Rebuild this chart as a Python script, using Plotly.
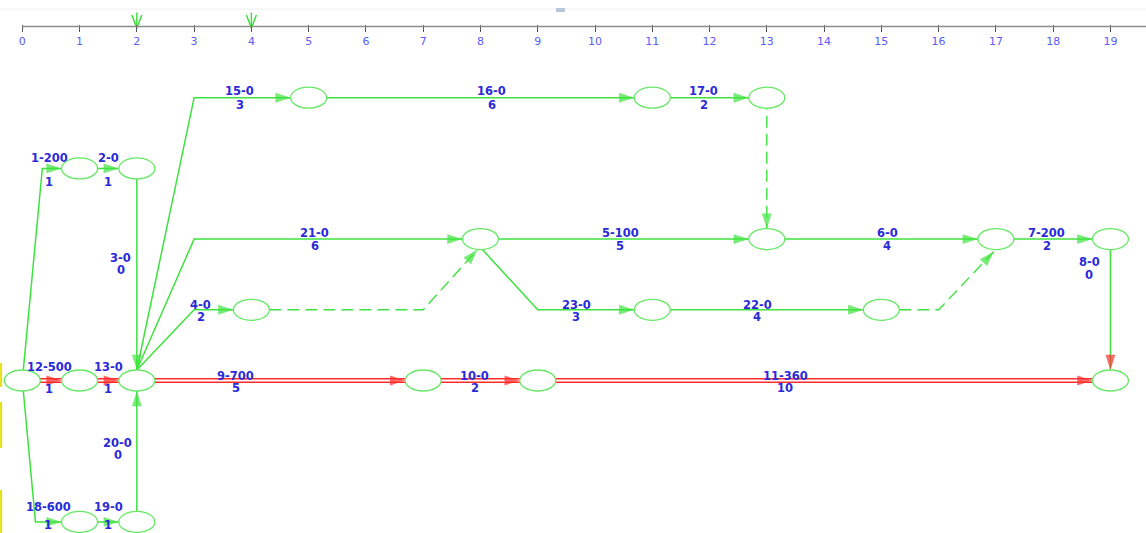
import plotly.graph_objects as go

# ---------------- data ----------------
TICK_VALS = [0, 1, 2, 3, 4, 5, 6, 7, 8, 9, 10, 11, 12, 13, 14, 15, 16, 17, 18, 19]
TICK_LABELS = ["0", "1", "2", "3", "4", "5", "6", "7", "8", "9", "10",
               "11", "12", "13", "14", "15", "16", "17", "18", "19"]
MARK_TIMES = [2, 4]

NODE_IDS = ["A", "B", "C", "D", "E", "F", "G", "H", "I", "J",
            "K", "L", "M", "N", "O", "P", "Q", "R", "S", "T"]
NODE_TIME = [0, 1, 2, 1, 2, 1, 2, 5, 11, 13, 8, 13, 17, 19, 4, 11, 15, 7, 9, 19]
NODE_LANE = [4, 1, 1, 4, 4, 6, 6, 0, 0, 0, 2, 2, 2, 2, 3, 3, 3, 4, 4, 4]

ACT_ID = [1, 2, 3, 12, 13, 18, 19, 20, 15, 16, 17, 21, 5, 6, 7, 8, 4, 23, 22, 9, 10, 11]
ACT_COST = [200, 0, 0, 500, 0, 600, 0, 0, 0, 0, 0, 0, 100, 0, 200, 0, 0, 0, 0, 700, 0, 360]
ACT_DUR = [1, 1, 0, 1, 1, 1, 1, 0, 3, 6, 2, 6, 5, 4, 2, 0, 2, 3, 4, 5, 2, 10]
ACT_FROM = ["A", "B", "C", "A", "D", "A", "F", "G", "E", "H", "I", "E", "K", "L", "M", "N", "E", "K", "P", "E", "R", "S"]
ACT_TO = ["B", "C", "E", "D", "E", "F", "G", "E", "H", "I", "J", "K", "L", "M", "N", "T", "O", "P", "Q", "R", "S", "T"]
ACT_CRITICAL = [False, False, False, True, True, False, False, False, False, False, False,
                False, False, False, False, False, False, False, False, True, True, True]

DUMMY_FROM = ["J", "O", "Q"]
DUMMY_TO = ["L", "K", "M"]

# ---------------- layout / style ----------------
W, H = 1146, 533
X0PX, XS = 22.3, 57.27     # pixel of day 0, pixels per day
Y0PX, YS = 97.7, 70.7      # pixel of lane 0, pixels per lane


def dx(p):
    return p / XS


def dy(p):
    return p / YS


def lane_at(py):
    return (py - Y0PX) / YS


XR = [-X0PX / XS, (W - X0PX) / XS]
YR = [(H - Y0PX) / YS, -Y0PX / YS]
RX, RY = dx(18), dy(10.5)

GREEN = "#3ee23e"
NODE_GREEN = "#66e866"
RED = "#ff2b2b"
LABEL_BLUE = "#2a2ad8"
TICK_BLUE = "#5c5cf2"

# routing of non-straight arrows
ROUTE = {
    "1-200": ("diag_first", 0.35, dx(1)),
    "18-600": ("diag_first", 0.23, dx(1)),
    "15-0": ("diag_first", 3, 0),
    "21-0": ("diag_first", 3, 0),
    "4-0": ("diag_first", 3, 0),
    "23-0": ("diag_first", 9, dx(2)),
}
DUMMY_ROUTE = {
    ("O", "K"): ("diag_last", 7, -dx(3), 0),
    ("Q", "M"): ("diag_last", 16, -dx(2), dy(2)),
}
RED_ARROW = {"8-0"}

# label placement: time, lane, name dy(px), duration dy(px), xshift(px)
LABEL = {
    "1-200": (0.47, 1, -10.5, 14, 0), "2-0": (1.50, 1, -10.5, 14, 0),
    "3-0": (2, 2.27, 0, 12, -16),
    "12-500": (0.47, 4, -14, 8, 0), "13-0": (1.50, 4, -14, 8, 0),
    "18-600": (0.45, 6, -15, 3.5, 0), "19-0": (1.50, 6, -15, 3.5, 0),
    "20-0": (2, 4.89, 0, 12, -19),
    "15-0": (3.80, 0, -6.5, 7, 0), "16-0": (8.20, 0, -6.5, 7, 0), "17-0": (11.90, 0, -6.5, 7, 0),
    "21-0": (5.11, 2, -6, 6.5, 0), "5-100": (10.44, 2, -6, 6.5, 0),
    "6-0": (15.10, 2, -6, 6.5, 0), "7-200": (17.89, 2, -6, 6.5, 0),
    "8-0": (19, 2.32, 0, 13, -21),
    "4-0": (3.12, 3, -5, 7, 0), "23-0": (9.67, 3, -5, 7, 0), "22-0": (12.83, 3, -5, 7, 0),
    "9-700": (3.73, 4, -5, 7.5, 0), "10-0": (7.90, 4, -5, 7.5, 0), "11-360": (13.32, 4, -5, 7.5, 0),
}

NODE = {n: (t, l) for n, t, l in zip(NODE_IDS, NODE_TIME, NODE_LANE)}

fig = go.Figure()
arrows = []


def add_line(pts, color, width, dash="solid"):
    fig.add_trace(go.Scatter(x=[p[0] for p in pts], y=[p[1] for p in pts], mode="lines",
                             line=dict(color=color, width=width, dash=dash),
                             hoverinfo="skip", showlegend=False))


def straight(a, b):
    (ta, la), (tb, lb) = NODE[a], NODE[b]
    if la == lb:
        return [(ta, la), (tb, lb)], (tb - RX - dx(20), lb), (tb - RX, lb)
    s = 1 if lb > la else -1
    return [(ta, la), (tb, lb)], (tb, la), (tb, lb - s * RY)


# activities
crit_lines = []
for aid, cost, dur, a, b, crit in zip(ACT_ID, ACT_COST, ACT_DUR, ACT_FROM, ACT_TO, ACT_CRITICAL):
    name = f"{aid}-{cost}"
    (ta, la), (tb, lb) = NODE[a], NODE[b]
    if name in ROUTE:
        _, bt, off = ROUTE[name]
        s = 1 if lb > la else -1
        start = (ta + off, la + s * RY)
        pts = [start, (bt, lb), (tb, lb)]
        prev, tip = (bt, lb), (tb - RX, lb)
    else:
        pts, prev, tip = straight(a, b)
    if crit:
        crit_lines.append(pts)
        add_line(pts, RED, 5)
    else:
        add_line(pts, GREEN, 1.5)
    acol = RED if (crit or name in RED_ARROW) else GREEN
    arrows.append((prev, tip, acol))

    lt, ll, ndy, ddy, xs = LABEL[name]
    for txt, off in ((name, ndy), (str(dur), ddy)):
        fig.add_annotation(x=lt, y=ll, text=txt, showarrow=False, xshift=xs, yshift=-off,
                           font=dict(family="DejaVu Sans", size=11.5, color=LABEL_BLUE, weight="bold"),
                           xanchor="center", yanchor="middle")

for pts in crit_lines:
    add_line(pts, "white", 1.8)

# dummy (dashed) arrows
for a, b in zip(DUMMY_FROM, DUMMY_TO):
    (ta, la), (tb, lb) = NODE[a], NODE[b]
    if (a, b) in DUMMY_ROUTE:
        _, bt, offx, offy = DUMMY_ROUTE[(a, b)]
        end = (tb + offx, lb + RY + offy)
        pts = [(ta, la), (bt, la), end]
        prev, tip = (bt, la), end
    else:
        pts, prev, tip = straight(a, b)
        pts = [pts[0], tip]
    add_line(pts, GREEN, 1.4, dash="12px,6px")
    arrows.append((prev, tip, GREEN))

# arrowheads
for prev, tip, col in arrows:
    fig.add_trace(go.Scatter(x=[prev[0], tip[0]], y=[prev[1], tip[1]], mode="markers",
                             marker=dict(symbol="arrow", angleref="previous", size=[0, 16],
                                         color=col, line=dict(width=0)),
                             hoverinfo="skip", showlegend=False))

# nodes
for t, l in zip(NODE_TIME, NODE_LANE):
    fig.add_shape(type="circle", xref="x", yref="y", x0=t - RX, x1=t + RX, y0=l - RY, y1=l + RY,
                  fillcolor="white", line=dict(color=NODE_GREEN, width=1.3), layer="above")

# time scale line
fig.add_shape(type="line", xref="x", yref="y", x0=0, x1=XR[1], y0=lane_at(26.5), y1=lane_at(26.5),
              line=dict(color="#8c8c8c", width=1.3))
# top faint rule and small tab
fig.add_shape(type="line", xref="paper", yref="y", x0=0, x1=1, y0=lane_at(9), y1=lane_at(9),
              line=dict(color="#eeeeee", width=1))
fig.add_shape(type="rect", xref="x", yref="y", x0=XR[0] + dx(556), x1=XR[0] + dx(565),
              y0=lane_at(8), y1=lane_at(12), fillcolor="#b9c6da", line=dict(width=0))
# yellow marks at left edge
for y0, y1 in ((363, 387), (402, 448), (490, 533)):
    fig.add_shape(type="line", xref="paper", yref="y", x0=0.001, x1=0.001,
                  y0=lane_at(y0), y1=lane_at(y1), line=dict(color="#e8e000", width=2))

# green check markers on time scale
for t in MARK_TIMES:
    add_line([(t, lane_at(12.5)), (t, lane_at(28))], "#33e033", 1.4)
    add_line([(t - dx(5), lane_at(15)), (t, lane_at(28)), (t + dx(5), lane_at(15))], "#33e033", 1.4)

fig.update_layout(
    width=W, height=H, autosize=False,
    margin=dict(l=0, r=0, t=0, b=0),
    paper_bgcolor="white", plot_bgcolor="white",
    showlegend=False,
    xaxis=dict(range=XR, tickvals=TICK_VALS, ticktext=TICK_LABELS, anchor="free",
               position=1 - 23.5 / H, side="bottom", ticks="outside", ticklen=7, tickwidth=1,
               tickcolor="#555555", showline=False, showgrid=False, zeroline=False,
               tickfont=dict(family="DejaVu Sans", size=11, color=TICK_BLUE), fixedrange=True),
    yaxis=dict(range=YR, visible=False, fixedrange=True),
)

fig.write_html("out.html", config={"displayModeBar": False},
               post_script="document.body.style.margin='0';")
